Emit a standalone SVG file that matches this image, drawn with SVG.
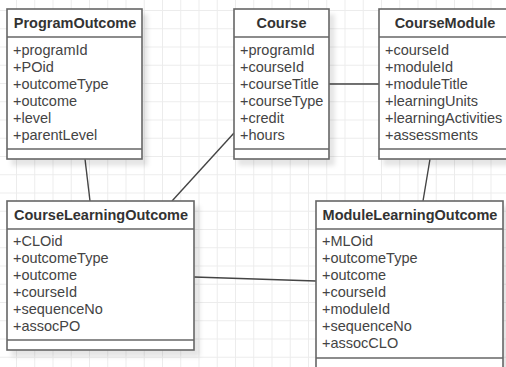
<svg xmlns="http://www.w3.org/2000/svg" width="506" height="367" viewBox="0 0 506 367">
<defs>
<pattern id="grid" x="16" y="10" width="18.25" height="18.25" patternUnits="userSpaceOnUse">
<path d="M0 0.5 H18.25 M0.5 0 V18.25" fill="none" stroke="#ececec" stroke-width="1"/>
</pattern>
<filter id="sh" x="-10%" y="-10%" width="130%" height="130%">
<feDropShadow dx="5" dy="6" stdDeviation="2" flood-color="#000" flood-opacity="0.1"/>
</filter>
<style>
.box{fill:#fff;stroke:#666;stroke-width:1.6;filter:url(#sh)}
.sep{stroke:#666;stroke-width:1.6;fill:none}
.title{font-family:"Liberation Sans",Arial,sans-serif;font-size:14.5px;font-weight:bold;fill:#333;text-anchor:middle}
.attr{font-family:"Liberation Sans",Arial,sans-serif;font-size:14.5px;fill:#444}
.conn{stroke:#444;stroke-width:1.4;fill:none}
</style>
</defs>
<rect width="506" height="367" fill="#fff"/>
<rect width="506" height="367" fill="url(#grid)"/>
<g id="connectors">
<line class="conn" x1="85" y1="159" x2="90" y2="201"/>
<line class="conn" x1="234" y1="133" x2="172" y2="201"/>
<line class="conn" x1="329" y1="84" x2="379" y2="84"/>
<line class="conn" x1="430" y1="159" x2="423" y2="201"/>
<line class="conn" x1="194" y1="277" x2="316" y2="281"/>
</g>
<g id="ProgramOutcome">
<rect class="box" x="7" y="9" width="135" height="150"/>
<line class="sep" x1="7" y1="37" x2="142" y2="37"/>
<line class="sep" x1="7" y1="149" x2="142" y2="149"/>
<text class="title" x="75" y="28">ProgramOutcome</text>
<text class="attr" x="13" y="55">+programId</text>
<text class="attr" x="13" y="72">+POid</text>
<text class="attr" x="13" y="89">+outcomeType</text>
<text class="attr" x="13" y="106">+outcome</text>
<text class="attr" x="13" y="123">+level</text>
<text class="attr" x="13" y="140">+parentLevel</text>
</g>
<g id="Course">
<rect class="box" x="234" y="9" width="95" height="150"/>
<line class="sep" x1="234" y1="37" x2="329" y2="37"/>
<line class="sep" x1="234" y1="149" x2="329" y2="149"/>
<text class="title" x="281.5" y="28">Course</text>
<text class="attr" x="240" y="55">+programId</text>
<text class="attr" x="240" y="72">+courseId</text>
<text class="attr" x="240" y="89">+courseTitle</text>
<text class="attr" x="240" y="106">+courseType</text>
<text class="attr" x="240" y="123">+credit</text>
<text class="attr" x="240" y="140">+hours</text>
</g>
<g id="CourseModule">
<rect class="box" x="379" y="9" width="132" height="150"/>
<line class="sep" x1="379" y1="37" x2="511" y2="37"/>
<line class="sep" x1="379" y1="149" x2="511" y2="149"/>
<text class="title" x="445" y="28">CourseModule</text>
<text class="attr" x="385" y="55">+courseId</text>
<text class="attr" x="385" y="72">+moduleId</text>
<text class="attr" x="385" y="89">+moduleTitle</text>
<text class="attr" x="385" y="106">+learningUnits</text>
<text class="attr" x="385" y="123">+learningActivities</text>
<text class="attr" x="385" y="140">+assessments</text>
</g>
<g id="CourseLearningOutcome">
<rect class="box" x="7" y="201" width="187" height="149"/>
<line class="sep" x1="7" y1="229" x2="194" y2="229"/>
<line class="sep" x1="7" y1="340" x2="194" y2="340"/>
<text class="title" x="101" y="220">CourseLearningOutcome</text>
<text class="attr" x="13" y="246">+CLOid</text>
<text class="attr" x="13" y="263">+outcomeType</text>
<text class="attr" x="13" y="280">+outcome</text>
<text class="attr" x="13" y="297">+courseId</text>
<text class="attr" x="13" y="314">+sequenceNo</text>
<text class="attr" x="13" y="331">+assocPO</text>
</g>
<g id="ModuleLearningOutcome">
<rect class="box" x="316" y="201" width="187" height="168"/>
<line class="sep" x1="316" y1="229" x2="503" y2="229"/>
<line class="sep" x1="316" y1="358" x2="503" y2="358"/>
<text class="title" x="410" y="220">ModuleLearningOutcome</text>
<text class="attr" x="322" y="246">+MLOid</text>
<text class="attr" x="322" y="263">+outcomeType</text>
<text class="attr" x="322" y="280">+outcome</text>
<text class="attr" x="322" y="297">+courseId</text>
<text class="attr" x="322" y="314">+moduleId</text>
<text class="attr" x="322" y="331">+sequenceNo</text>
<text class="attr" x="322" y="348">+assocCLO</text>
</g>
</svg>
